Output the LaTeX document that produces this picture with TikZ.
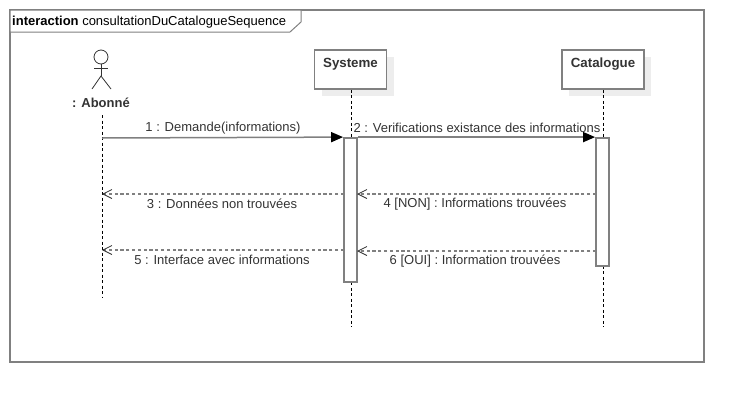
\documentclass[tikz,border=0pt]{standalone}
\usepackage{fontspec}
\setmainfont{Liberation Sans}
\usetikzlibrary{arrows.meta,shadows}
\definecolor{lineGray}{RGB}{128,128,128}
\definecolor{textGray}{RGB}{51,51,51}
\tikzset{
  lifebox/.style={draw=lineGray,line width=1.8pt,fill=white,inner sep=0pt,minimum height=39pt,
    text height=17pt,text depth=22pt,font=\bfseries\fontsize{13.3}{15}\selectfont,text=textGray,
    drop shadow={shadow xshift=7pt,shadow yshift=-7pt,fill=black!7,opacity=1}},
  bar/.style={draw=lineGray,line width=1.8pt,fill=white,inner sep=0pt,minimum width=13pt},
  lifeline/.style={black,line width=0.8pt,dash pattern=on 3pt off 2.5pt},
  callmsg/.style={draw=lineGray,line width=1.5pt,-{Triangle[length=12pt,width=10pt,color=black]}},
  replymsg/.style={draw=lineGray,line width=1.2pt,dash pattern=on 3.2pt off 2.6pt,
    -{Straight Barb[length=9pt,width=9pt,color=textGray,line width=0.8pt]}},
  msglabel/.style={font=\fontsize{13}{15}\selectfont,text=textGray,inner sep=0pt},
  limb/.style={draw=textGray,line width=0.8pt}
}
\begin{document}
\begin{tikzpicture}[x=1pt,y=-1pt]
  \useasboundingbox (0,0) rectangle (744,402);
  % frame
  \draw[lineGray,line width=1.8pt] (10,10) rectangle (704,362);
  \draw[lineGray,line width=1.0pt,fill=white] (10,10) -- (301,10) -- (301,22) -- (290,32) -- (10,32) -- cycle;
  \node[anchor=base west,inner sep=0pt,text=black,font=\fontsize{13}{15}\selectfont] (frameTitle) at (12,25)
    {\textbf{interaction} consultationDuCatalogueSequence};
  % actor
  \node[circle,limb,minimum size=14pt,inner sep=0pt] (head) at (101,57) {};
  \coordinate (hip) at (101,76);
  \coordinate (armL) at (94,68);
  \coordinate (armR) at (108,68);
  \coordinate (legL) at (92,89);
  \coordinate (legR) at (111,89);
  \draw[limb] (head) -- (hip);
  \draw[limb] (armL) -- (armR);
  \draw[limb] (legL) -- (hip) -- (legR);
  \node[font=\bfseries\fontsize{13}{15}\selectfont,text=textGray,inner sep=0pt] (abonne) at (101,103) {: Abonné};
  % lifelines
  \node[lifebox,minimum width=72pt] (systeme) at (350.5,69.5) {Systeme};
  \node[lifebox,minimum width=82pt] (catalogue) at (603,69.5) {Catalogue};
  \coordinate (abonneTop) at (102,115);
  \coordinate (abonneEnd) at (102,298);
  \coordinate (systemeEnd) at (351.5,327);
  \coordinate (catalogueEnd) at (603.5,327);
  \draw[lifeline] (abonneTop) -- (abonneEnd);
  \draw[lifeline] (systeme.south -| systemeEnd) -- (systemeEnd);
  \draw[lifeline] (catalogue.south -| catalogueEnd) -- (catalogueEnd);
  % activations
  \node[bar,minimum height=144pt] (systemeBar) at (350.5,210) {};
  \node[bar,minimum height=128pt] (catalogueBar) at (602.5,202) {};
  % messages
  \coordinate (m1) at (102,138);
  \coordinate (m3) at (102,194);
  \coordinate (m5) at (102,250);
  \coordinate (s3) at (344,194);
  \coordinate (s5) at (344,250);
  \coordinate (s4) at (357,194);
  \coordinate (s6) at (357,251);
  \coordinate (c4) at (596,194);
  \coordinate (c6) at (596,251);
  \draw[callmsg] (m1) -- (systemeBar.north west);
  \draw[callmsg] (systemeBar.north east) -- (catalogueBar.north west);
  \draw[replymsg] (s3) -- (m3);
  \draw[replymsg] (c4) -- (s4);
  \draw[replymsg] (s5) -- (m5);
  \draw[replymsg] (c6) -- (s6);
  % labels
  \node[msglabel] (l1) at (223,128) {1 : Demande(informations)};
  \node[msglabel] (l2) at (477,128) {2 : Verifications existance des informations};
  \node[msglabel] (l3) at (222,204) {3 : Données non trouvées};
  \node[msglabel] (l4) at (475,204) {4 [NON] : Informations trouvées};
  \node[msglabel] (l5) at (222,260) {5 : Interface avec informations};
  \node[msglabel] (l6) at (475,261) {6 [OUI] : Information trouvées};
\end{tikzpicture}
\end{document}
